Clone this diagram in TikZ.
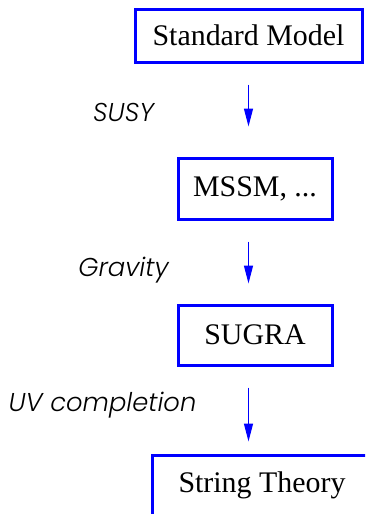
\documentclass[tikz,border=0pt]{standalone}
\usepackage{fontspec}
\setmainfont{Liberation Serif}
\newfontfamily\steplabelfont{Poppins Light}
\usetikzlibrary{arrows.meta}
\tikzset{
  theorybox/.style={draw=blue, line width=3pt, inner sep=0pt,
    font=\fontsize{29.9}{34}\selectfont, text=black},
  flowarrow/.style={draw=blue, line width=1.4pt,
    -{Triangle[length=18pt,width=9pt]}},
  steplabel/.style={inner sep=0pt, font=\steplabelfont\itshape\fontsize{25.8}{30}\selectfont}
}
\begin{document}
\begin{tikzpicture}[x=1pt,y=-1pt]
  \useasboundingbox (0,0) rectangle (365,514);
  \clip (0,0) rectangle (365,514);
  % chain of theories
  \node[theorybox, minimum width=227pt, minimum height=53pt] (sm) at (248.5,35.5) {Standard Model};
  \node[theorybox, minimum width=154pt, minimum height=61pt] (mssm) at (255,188.5) {MSSM, ...};
  \node[theorybox, minimum width=154pt, minimum height=60pt] (sugra) at (255,335) {SUGRA};
  \node[theorybox, minimum width=220pt, minimum height=60pt] (string) at (262,485) {String Theory};
  % steps between them
  \draw[flowarrow, shorten <=21pt, shorten >=30pt] (sm.south) -- (sm.south |- mssm.north);
  \draw[flowarrow, shorten <=21pt, shorten >=20pt] (mssm.south -| sm.south) -- (sm.south |- sugra.north);
  \draw[flowarrow, shorten <=21pt, shorten >=12pt] (sugra.south -| sm.south) -- (sm.south |- string.north);
  % step labels
  \node[steplabel] (susy) at (123.5,112) {SUSY};
  \node[steplabel] (grav) at (123.5,270) {Gravity};
  \node[steplabel] (uv) at (102.5,405) {UV completion};
\end{tikzpicture}
\end{document}
